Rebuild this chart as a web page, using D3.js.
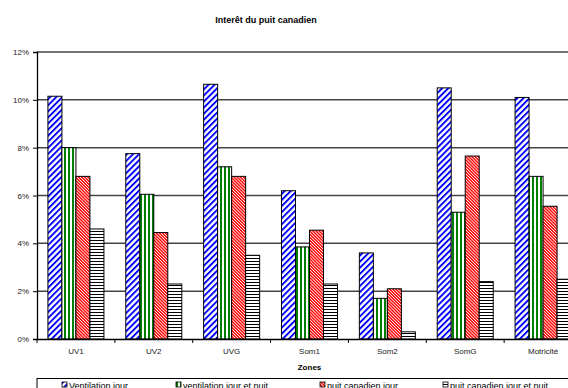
<!DOCTYPE html>
<html>
<head>
<meta charset="utf-8">
<script src="https://cdn.jsdelivr.net/npm/d3@7"></script>
<style>
  body { margin: 0; background: #fff; }
  svg { display: block; font-family: "Liberation Sans", Arial, sans-serif; }
</style>
</head>
<body>
<div class="canvas"></div>
<script>
    const categories = ["UV1", "UV2", "UVG", "Som1", "Som2", "SomG", "Motricité"];
    const seriesNames = ["Ventilation jour", "ventilation jour et nuit", "puit canadien jour", "puit canadien jour et nuit"];
    const ventJour = [10.15, 7.75, 10.65, 6.2, 3.6, 10.5, 10.1];
    const ventJourNuit = [8.0, 6.05, 7.2, 3.85, 1.7, 5.3, 6.8];
    const puitJour = [6.8, 4.45, 6.8, 4.55, 2.1, 7.65, 5.55];
    const puitJourNuit = [4.6, 2.3, 3.5, 2.3, 0.3, 2.4, 2.5];
    const yTicks = [0, 2, 4, 6, 8, 10, 12];

    const seriesValues = [ventJour, ventJourNuit, puitJour, puitJourNuit];
    const patternIds = ["pBlue", "pGreen", "pRed", "pBlack"];

    const width = 568, height = 388;
    const PLOT_LEFT = 37, PLOT_RIGHT = 582, PLOT_TOP = 52, PLOT_BOTTOM = 339;

    const svg = d3.select(".canvas").append("svg")
        .attr("width", width)
        .attr("height", height);

    // fill patterns like the old Excel ones
    const defs = svg.append("defs");
    function stripes(id, w, sw, color, angle, horizontal) {
        const p = defs.append("pattern")
            .attr("id", id)
            .attr("patternUnits", "userSpaceOnUse")
            .attr("width", horizontal ? 8 : w)
            .attr("height", horizontal ? w : 8);
        if (angle) p.attr("patternTransform", "rotate(" + angle + ")");
        p.append("rect").attr("width", horizontal ? 8 : w).attr("height", horizontal ? w : 8).attr("fill", "#fff");
        p.append("rect")
            .attr("width", horizontal ? 8 : sw)
            .attr("height", horizontal ? sw : 8)
            .attr("fill", color);
    }
    stripes("pBlue", 4.3, 1.9, "#0000ff", 45, false);
    stripes("pGreen", 4, 2, "#008000", 0, false);
    stripes("pRed", 2.2, 1.4, "#ff0000", -45, false);
    stripes("pBlack", 3, 1, "#000", 0, true);

    const x = d3.scaleBand().domain(categories).range([PLOT_LEFT, PLOT_RIGHT]).padding(0);
    const xInner = d3.scaleBand().domain(d3.range(seriesNames.length))
        .range([0, x.bandwidth()]).paddingInner(0).paddingOuter(0.78);
    const y = d3.scaleLinear().domain([0, 12]).range([PLOT_BOTTOM, PLOT_TOP]);

    // title
    svg.append("text")
        .attr("x", 266).attr("y", 23)
        .attr("text-anchor", "middle")
        .style("font-size", "9px").style("font-weight", "bold")
        .text("Interêt du puit canadien");

    // gridlines
    svg.append("g").selectAll("line").data(yTicks.filter(d => d > 0)).join("line")
        .attr("x1", PLOT_LEFT).attr("x2", PLOT_RIGHT)
        .attr("y1", d => y(d)).attr("y2", d => y(d))
        .attr("stroke", "#444").attr("stroke-width", 1.5);

    // bars
    seriesValues.forEach(function (vals, s) {
        svg.append("g").selectAll("rect").data(vals).join("rect")
            .attr("x", (d, i) => x(categories[i]) + xInner(s))
            .attr("y", d => y(d))
            .attr("width", xInner.bandwidth())
            .attr("height", d => PLOT_BOTTOM - y(d))
            .attr("fill", "url(#" + patternIds[s] + ")")
            .attr("stroke", "#000").attr("stroke-width", 1);
    });

    // y axis
    const yAxis = svg.append("g")
        .attr("transform", "translate(" + PLOT_LEFT + ",0)")
        .call(d3.axisLeft(y).tickValues(yTicks).tickFormat(d => d + "%").tickSize(4).tickPadding(4));
    yAxis.selectAll("text").style("font-size", "8px").attr("fill", "#222").attr("font-family", "Liberation Sans, Arial, sans-serif");
    yAxis.select(".domain").attr("stroke", "#000").attr("stroke-width", 1.3);

    // x axis
    const xAxis = svg.append("g")
        .attr("transform", "translate(0," + PLOT_BOTTOM + ")")
        .call(d3.axisBottom(x).tickSize(0).tickPadding(9));
    xAxis.select(".domain").attr("stroke", "#000").attr("stroke-width", 1.3);
    xAxis.selectAll("text").style("font-size", "8px").attr("fill", "#222").attr("font-family", "Liberation Sans, Arial, sans-serif");
    xAxis.append("g").selectAll("line").data(categories).join("line")
        .attr("x1", d => x(d)).attr("x2", d => x(d))
        .attr("y1", 0).attr("y2", 4)
        .attr("stroke", "#000");

    svg.append("text")
        .attr("x", (PLOT_LEFT + PLOT_RIGHT) / 2).attr("y", 370)
        .attr("text-anchor", "middle")
        .style("font-size", "8px").style("font-weight", "bold")
        .text("Zones");

    // legend (cut off by the bottom edge, as in the source image)
    const legend = svg.append("g");
    legend.append("rect")
        .attr("x", PLOT_LEFT).attr("y", 378.5)
        .attr("width", 600).attr("height", 30)
        .attr("fill", "#fff").attr("stroke", "#000").attr("stroke-width", 1);
    const legendX = [62, 176, 320, 443];
    seriesNames.forEach(function (name, s) {
        legend.append("rect")
            .attr("x", legendX[s]).attr("y", 382)
            .attr("width", 5).attr("height", 5)
            .attr("fill", "url(#" + patternIds[s] + ")")
            .attr("stroke", "#000").attr("stroke-width", 0.8);
        legend.append("text")
            .attr("x", legendX[s] + 7).attr("y", 389)
            .style("font-size", "9px")
            .text(name);
    });
</script>
</body>
</html>
